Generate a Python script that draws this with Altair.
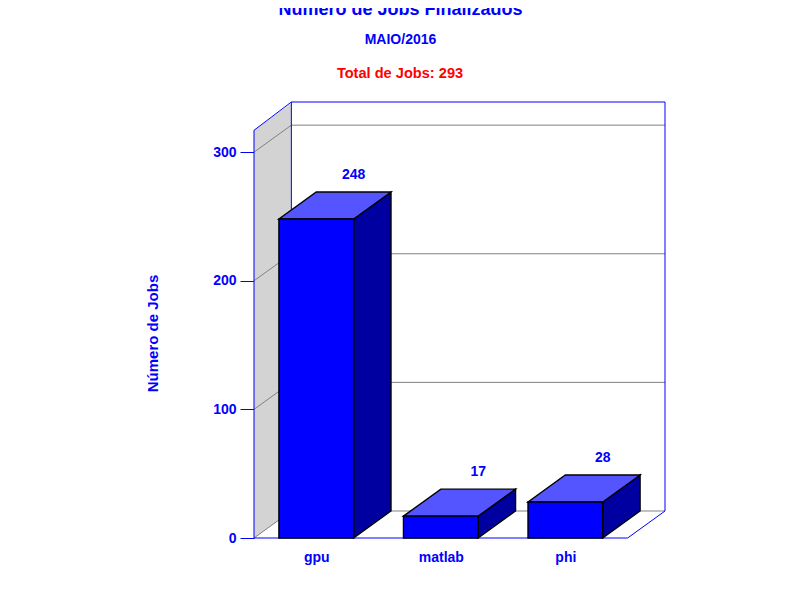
import altair as alt
import pandas as pd

classes = ["gpu", "matlab", "phi"]
jobs = [248, 17, 28]
y_ticks = [0, 100, 200, 300]
front_top = 317

BAR_LEFT = 0.2
BAR_W = 0.6
DX = 0.3
DY = 21
N = len(classes)
Y_MAX = front_top + DY + 1
X_MAX = N + DX

FONT = "Liberation Sans"
xs = alt.Scale(domain=[0, X_MAX], nice=False, zero=False)
ys = alt.Scale(domain=[0, Y_MAX], nice=False, zero=False)

centers = [i + BAR_LEFT + BAR_W / 2 for i in range(N)]
tick_expr = "{" + ",".join(f"'{c}':'{name}'" for c, name in zip(centers, classes)) + "}[datum.value]"
x_axis = alt.Axis(
    values=centers, labelExpr=tick_expr, domain=False, ticks=False, grid=False,
    labelColor="blue", labelFont=FONT, labelFontWeight="bold", labelFontSize=14, labelPadding=12,
    labelOverlap=False, titleColor="blue", titleFont=FONT, titleFontWeight="bold", titleFontSize=15,
    titleX=186, titleY=52,
)
y_axis = alt.Axis(
    values=y_ticks, format="d", domain=False, tickColor="blue", tickSize=14, grid=False,
    labelColor="blue", labelFont=FONT, labelFontWeight="bold", labelFontSize=14, labelPadding=4,
    titleColor="blue", titleFont=FONT, titleFontWeight="bold", titleFontSize=15,
    titleX=-94, titleY=231,
)

def X(field):
    return alt.X(field, scale=xs, axis=x_axis, title="Classes")

def Y(field):
    return alt.Y(field, scale=ys, axis=y_axis, title="Número de Jobs")

def face(pts, fill, stroke=None):
    df = pd.DataFrame(pts, columns=["x", "lo", "hi"])
    kw = {"stroke": stroke, "strokeWidth": 1.4} if stroke else {}
    return alt.Chart(df).mark_area(fill=fill, opacity=1, interpolate="linear", **kw).encode(
        x=X("x:Q"), y=Y("lo:Q"), y2="hi:Q"
    )

def path(groups, color, width=1.0):
    rows = []
    for k, pts in enumerate(groups):
        for o, (px, py) in enumerate(pts):
            rows.append({"k": k, "o": o, "x": px, "y": py})
    return alt.Chart(pd.DataFrame(rows)).mark_line(color=color, strokeWidth=width).encode(
        x=X("x:Q"), y=Y("y:Q"), detail="k:N", order="o:Q"
    )

wall_left = face([(0, 0, front_top), (DX, DY, front_top + DY)], "#d3d3d3")
grid_back = path([[(DX, t + DY), (X_MAX, t + DY)] for t in y_ticks], "#808080")
grid_side = path([[(0, t), (DX, t + DY)] for t in y_ticks], "#808080")
outline = path([
    [(0, 0), (0, front_top), (DX, Y_MAX), (X_MAX, Y_MAX), (X_MAX, DY), (N, 0), (0, 0)],
    [(DX, DY), (DX, Y_MAX)],
], "blue")

bar_layers = []
for i, v in enumerate(jobs):
    x0 = i + BAR_LEFT
    x1 = x0 + BAR_W
    bar_layers.append(face([(x1, 0, v), (x1 + DX, DY, v + DY)], "#0000a0", "black"))
    bar_layers.append(face([(x0, v, v), (x0 + DX, v, v + DY), (x1, v, v + DY), (x1 + DX, v + DY, v + DY)], "#5555ff", "black"))
    bar_layers.append(face([(x0, 0, v), (x1, 0, v)], "blue", "black"))

lab_df = pd.DataFrame({"x": [c + DX for c in centers], "y": [v + DY for v in jobs], "v": [str(v) for v in jobs]})
labels = alt.Chart(lab_df).mark_text(
    color="blue", font=FONT, fontWeight="bold", fontSize=14, baseline="middle", dy=-17
).encode(x=X("x:Q"), y=Y("y:Q"), text="v:N")

total = alt.Chart(pd.DataFrame({"t": ["Total de Jobs: 293"]})).mark_text(
    color="red", font=FONT, fontWeight="bold", fontSize=14.6
).encode(x=alt.value(146), y=alt.value(-28), text="t:N")

chart = alt.layer(wall_left, grid_back, grid_side, outline, *bar_layers, labels, total).properties(
    width=411, height=436,
    title=alt.Title("Número de Jobs Finalizados", subtitle="MAIO/2016", anchor="middle", dx=-59,
                    font=FONT, fontSize=18, fontWeight="bold", color="blue",
                    subtitleFont=FONT, subtitleFontSize=14, subtitleFontWeight="bold",
                    subtitleColor="blue", subtitlePadding=14, offset=19),
    padding={"left": 246, "top": 94, "right": 127, "bottom": 54},
    autosize=alt.AutoSizeParams(type="none"),
).configure_view(stroke=None)

chart.save("out.html", embed_options={"renderer": "svg", "actions": False})
